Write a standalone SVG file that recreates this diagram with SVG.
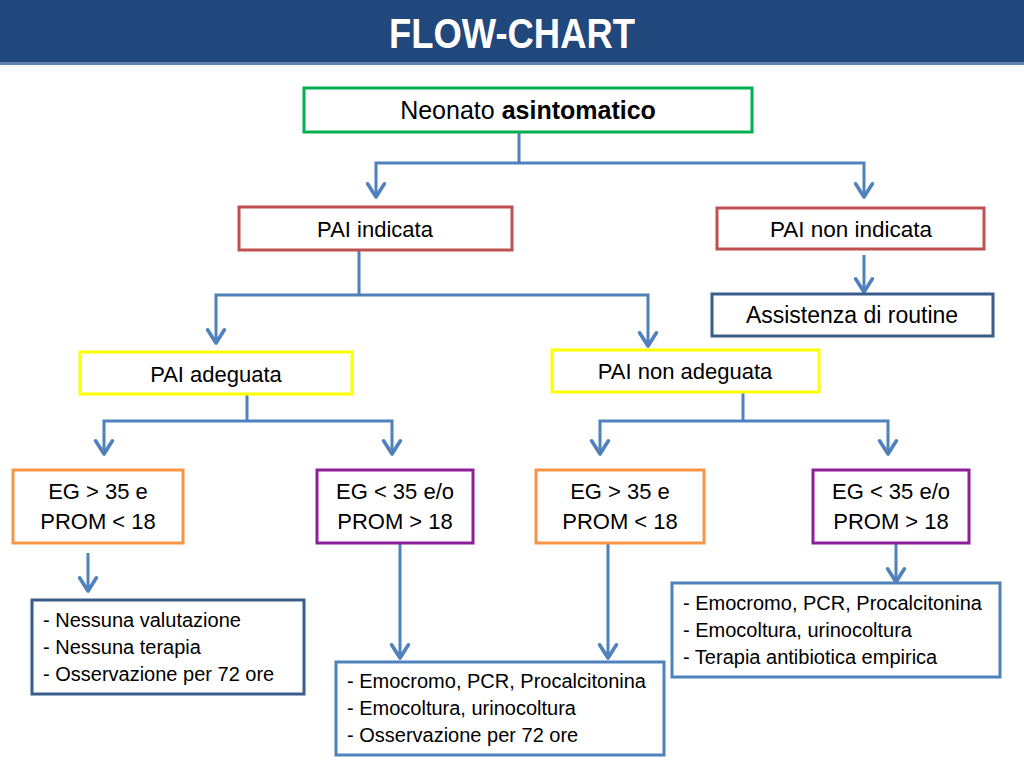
<svg xmlns="http://www.w3.org/2000/svg" width="1024" height="768" viewBox="0 0 1024 768">
<defs>
<marker id="arr" markerUnits="userSpaceOnUse" markerWidth="24" markerHeight="24" viewBox="-12 -10 14 20" refX="0" refY="0" orient="auto" style="overflow:visible">
<path d="M-11,-7 L0,0 L-11,7" fill="none" stroke="#4F81BD" stroke-width="3" stroke-linecap="round" stroke-linejoin="round"/>
</marker>
<style>
.box{fill:#fff;stroke-width:3}
.t{font-family:"Liberation Sans",Arial,sans-serif;font-size:22px;fill:#000;text-anchor:middle}
.l{font-family:"Liberation Sans",Arial,sans-serif;font-size:20px;fill:#000}
.c{fill:none;stroke:#4F81BD;stroke-width:3}
.a{marker-end:url(#arr)}
</style>
</defs>
<rect x="0" y="0" width="1024" height="768" fill="#fff"/>
<g id="header">
<rect x="0" y="0" width="1024" height="64" fill="#21487C"/>
<rect x="0" y="62" width="1024" height="3" fill="#5E82B2"/>
<text x="512" y="48" font-family="'Liberation Sans',Arial,sans-serif" font-weight="bold" font-size="42" fill="#fff" text-anchor="middle" textLength="246" lengthAdjust="spacingAndGlyphs">FLOW-CHART</text>
</g>
<g id="connectors">
<polyline class="c" points="519,132 519,163"/>
<polyline class="c a" points="519,163 376,163 376,197"/>
<polyline class="c a" points="519,163 864,163 864,197"/>
<polyline class="c" points="359,250 359,295"/>
<polyline class="c a" points="359,295 216,295 216,343"/>
<polyline class="c a" points="359,295 648,295 648,346"/>
<polyline class="c a" points="864,255 864,292"/>
<polyline class="c" points="247,394 247,421"/>
<polyline class="c a" points="247,421 104,421 104,454"/>
<polyline class="c a" points="247,421 392,421 392,454"/>
<polyline class="c" points="743,392 743,421"/>
<polyline class="c a" points="743,421 600,421 600,454"/>
<polyline class="c a" points="743,421 888,421 888,454"/>
<polyline class="c a" points="88,553 88,591"/>
<polyline class="c a" points="400,543 400,658"/>
<polyline class="c a" points="608,543 608,658"/>
<polyline class="c a" points="896,543 896,582"/>
</g>
<g id="n-neonato">
<rect class="box" x="304" y="88" width="448" height="44" stroke="#00B050"/>
<text class="t" x="528" y="119" style="font-size:25px">Neonato <tspan font-weight="bold">asintomatico</tspan></text>
</g>
<g id="n-pai-indicata">
<rect class="box" x="239" y="207" width="273" height="43" stroke="#C0504D"/>
<text class="t" x="375" y="237">PAI indicata</text>
</g>
<g id="n-pai-non-indicata">
<rect class="box" x="717" y="208" width="267" height="41" stroke="#C0504D"/>
<text class="t" x="851" y="237" style="font-size:22.5px">PAI non indicata</text>
</g>
<g id="n-assistenza">
<rect class="box" x="712" y="294" width="281" height="42" stroke="#385D8A"/>
<text class="t" x="852" y="323" style="font-size:23px">Assistenza di routine</text>
</g>
<g id="n-pai-adeguata">
<rect class="box" x="80" y="352" width="272" height="42" stroke="#FFFF00"/>
<text class="t" x="216" y="382">PAI adeguata</text>
</g>
<g id="n-pai-non-adeguata">
<rect class="box" x="552" y="350" width="267" height="42" stroke="#FFFF00"/>
<text class="t" x="685" y="379">PAI non adeguata</text>
</g>
<g id="n-eg1">
<rect class="box" x="13" y="470" width="170" height="73" stroke="#F79646"/>
<text class="t" x="98" y="499">EG &gt; 35 e</text>
<text class="t" x="98" y="529">PROM &lt; 18</text>
</g>
<g id="n-eg2">
<rect class="box" x="317" y="470" width="156" height="73" stroke="#8E1E9A"/>
<text class="t" x="395" y="499">EG &lt; 35 e/o</text>
<text class="t" x="395" y="529">PROM &gt; 18</text>
</g>
<g id="n-eg3">
<rect class="box" x="536" y="470" width="168" height="73" stroke="#F79646"/>
<text class="t" x="620" y="499">EG &gt; 35 e</text>
<text class="t" x="620" y="529">PROM &lt; 18</text>
</g>
<g id="n-eg4">
<rect class="box" x="813" y="470" width="156" height="73" stroke="#8E1E9A"/>
<text class="t" x="891" y="499">EG &lt; 35 e/o</text>
<text class="t" x="891" y="529">PROM &gt; 18</text>
</g>
<g id="n-nessuna">
<rect class="box" x="32" y="600" width="272" height="94" stroke="#385D8A"/>
<text class="l" x="43" y="627">- Nessuna valutazione</text>
<text class="l" x="43" y="654">- Nessuna terapia</text>
<text class="l" x="43" y="681">- Osservazione per 72 ore</text>
</g>
<g id="n-emocromo1">
<rect class="box" x="336" y="662" width="328" height="93" stroke="#4F81BD"/>
<text class="l" x="347" y="688">- Emocromo, PCR, Procalcitonina</text>
<text class="l" x="347" y="715">- Emocoltura, urinocoltura</text>
<text class="l" x="347" y="742">- Osservazione per 72 ore</text>
</g>
<g id="n-emocromo2">
<rect class="box" x="672" y="583" width="328" height="94" stroke="#4F81BD"/>
<text class="l" x="683" y="610">- Emocromo, PCR, Procalcitonina</text>
<text class="l" x="683" y="637">- Emocoltura, urinocoltura</text>
<text class="l" x="683" y="664">- Terapia antibiotica empirica</text>
</g>
</svg>
